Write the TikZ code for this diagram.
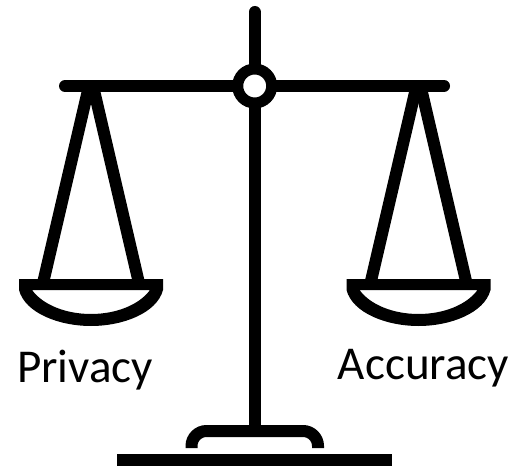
\documentclass[tikz,border=0pt]{standalone}
\usepackage{fontspec}
\setmainfont{Carlito}
\usetikzlibrary{calc}

\begin{document}
\begin{tikzpicture}[x=.02cm, y=-.02cm, bar/.style = {line width = 12*.02cm}, lab/.style = {anchor = base, inner sep = 0pt, font = \fontsize{26.8pt}{32pt}\selectfont}]
      \useasboundingbox (0, 0) rectangle (513, 469);

      \coordinate (top) at (254.7, 12);
      \coordinate (pivot) at (254.7, 86);
      \coordinate (foot) at (254.7, 431);
      \coordinate (beamL) at (65, 86);
      \coordinate (beamR) at (444, 86);

      \draw [bar, line cap = round] (top) -- (pivot);
      \draw [bar, line cap = round] (beamL) -- (beamR);
      \draw [bar] (pivot) -- (foot);
      \draw [bar, rounded corners = .3cm] (191.5, 448) -- (191.5, 431) -- (318, 431) -- (318, 448);
      \node [fill = black, inner sep = 0pt, minimum width = 275*.02cm, minimum height = 12*.02cm] (base) at (254.7, 460) {};

      % the two pans
      \foreach \c/\n in {91/L, 418.5/R} {
        \begin{scope}[shift = {(\c, 0)}]
          \coordinate (apexA\n) at (-2, 86);
          \coordinate (apexB\n) at (2, 86);
          \coordinate (strA\n) at (-47.5, 281);
          \coordinate (strB\n) at (47.5, 281);
          \draw [bar] (apexA\n) -- (strA\n);
          \draw [bar] (apexB\n) -- (strB\n);
          \fill [even odd rule] (-72, 279) -- (72, 279) -- (72, 290) .. controls (66, 313) and (32, 326) .. (0, 326) .. controls (-32, 326) and (-66, 313) .. (-72, 290) -- cycle
            (-59, 290) -- (59, 290) .. controls (48, 305) and (25, 314) .. (0, 314) .. controls (-25, 314) and (-48, 305) .. (-59, 290) -- cycle;
        \end{scope}
      }

      \node [circle, draw, fill = white, line width = 11*.02cm, minimum size = 34*.02cm, inner sep = 0pt] (ring) at (pivot) {};

      \node [lab] (privacy) at (85, 382) {Privacy};
      \node [lab] (accuracy) at (423.5, 379) {Accuracy};
    \end{tikzpicture}
\end{document}
